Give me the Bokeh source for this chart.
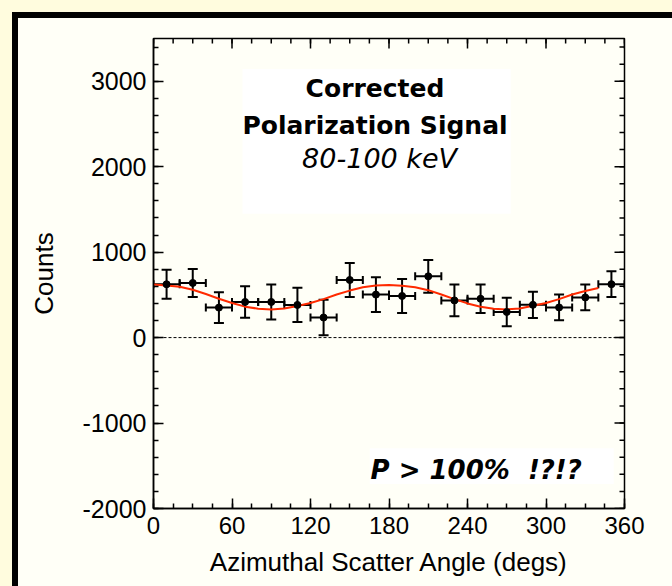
from bokeh.plotting import figure
from bokeh.models import (ColumnDataSource, Whisker, TeeHead, FixedTicker,
                          Range1d, BoxAnnotation, Label, Span)
from bokeh.embed import file_html
from bokeh.resources import INLINE

# ---- data ----
angles = [10, 30, 50, 70, 90, 110, 130, 150, 170, 190, 210, 230, 250, 270, 290, 310, 330, 350]
counts = [624, 639, 351, 417, 417, 382, 235, 674, 503, 487, 717, 435, 454, 300, 383, 353, 470, 625]
errors = [169, 165, 181, 185, 205, 200, 208, 200, 204, 200, 192, 186, 167, 167, 154, 151, 151, 151]
bin_half_width = 10

fit_angles = [0, 10, 20, 30, 40, 50, 60, 70, 80, 90, 100, 110, 120, 130, 140, 150, 160, 170,
              180, 190, 200, 210, 220, 230, 240, 250, 260, 270, 280, 290, 300, 310, 320, 330, 340]
fit_counts = [620, 610, 595, 560, 510, 455, 405, 362, 338, 330, 340, 370, 405, 450, 505, 550, 590, 610,
              615, 608, 590, 555, 505, 450, 400, 362, 338, 330, 340, 372, 405, 450, 505, 545, 580]

x_ticks = [0, 60, 120, 180, 240, 300, 360]
x_minor = [0, 15, 30, 45, 60, 75, 90, 105, 120, 135, 150, 165, 180, 195, 210, 225, 240,
           255, 270, 285, 300, 315, 330, 345, 360]
y_ticks = [-2000, -1000, 0, 1000, 2000, 3000]
y_minor = [-2000, -1800, -1600, -1400, -1200, -1000, -800, -600, -400, -200, 0, 200, 400, 600,
           800, 1000, 1200, 1400, 1600, 1800, 2000, 2200, 2400, 2600, 2800, 3000, 3200, 3400]

x_label = "Azimuthal Scatter Angle (degs)"
y_label = "Counts"
title_lines = ["Corrected", "Polarization Signal"]
energy_text = "80-100 keV"
note_text = "P > 100%\u00a0 !?!?"

# ---- colours ----
OUTER = "#fffcde"
INNER = "#fffff7"
RED = "#ff2a00"

X0, X1 = 0, 360
Y0, Y1 = -2000, 3500

src = ColumnDataSource(data=dict(
    x=angles, y=counts,
    lower=[c - e for c, e in zip(counts, errors)],
    upper=[c + e for c, e in zip(counts, errors)],
    left=[a - bin_half_width for a in angles],
    right=[a + bin_half_width for a in angles],
))

W, H = 672, 586
p = figure(width=W, height=H, output_backend="svg", toolbar_location=None,
           x_range=Range1d(X0, X1), y_range=Range1d(Y0, Y1),
           min_border_left=153, min_border_right=48, min_border_top=38, min_border_bottom=78,
           background_fill_color=INNER, border_fill_color=INNER, border_fill_alpha=0)
p.styles = {"background-color": INNER,
            "box-shadow": f"inset 12px 12px 0 0 {OUTER}, inset 18px 18px 0 0 black"}
p.grid.visible = False
p.outline_line_color = "black"
p.outline_line_width = 1.5

FONT = "Liberation Sans"

def style_axis(ax, tick_size):
    ax.axis_line_color = "black"
    ax.axis_line_width = 1.5
    ax.major_tick_line_color = "black"
    ax.major_tick_line_width = 1.5
    ax.minor_tick_line_color = "black"
    ax.minor_tick_line_width = 1.5
    ax.major_tick_in = 10
    ax.major_tick_out = 0
    ax.minor_tick_in = 5
    ax.minor_tick_out = 0
    ax.major_label_text_font = FONT
    ax.major_label_text_color = "black"
    ax.major_label_text_font_size = tick_size
    ax.axis_label_text_font = FONT
    ax.axis_label_text_font_size = "26px"
    ax.axis_label_text_font_style = "normal"
    ax.axis_label_text_color = "black"

xa = p.xaxis[0]
xa.ticker = FixedTicker(ticks=x_ticks, minor_ticks=x_minor)
xa.axis_label = x_label
style_axis(xa, "24px")
xa.major_label_standoff = 8
xa.axis_label_standoff = 10
xa.major_label_overrides = {t: str(t) for t in x_ticks}

ya = p.yaxis[0]
ya.ticker = FixedTicker(ticks=y_ticks, minor_ticks=y_minor)
ya.axis_label = y_label
style_axis(ya, "25px")
ya.major_label_standoff = 7
ya.axis_label_standoff = 21
ya.major_label_overrides = {t: str(t) for t in y_ticks}

# inward ticks on the top and right edges of the frame (same tick positions)
MAJ_PX, MIN_PX = 10, 5
FRAME_W, FRAME_H = 471, 470
dy_per_px = (Y1 - Y0) / FRAME_H
dx_per_px = (X1 - X0) / FRAME_W
p.segment(x0=x_ticks, y0=[Y1] * len(x_ticks), x1=x_ticks,
          y1=[Y1 - MAJ_PX * dy_per_px] * len(x_ticks), line_color="black", line_width=1.5)
p.segment(x0=x_minor, y0=[Y1] * len(x_minor), x1=x_minor,
          y1=[Y1 - MIN_PX * dy_per_px] * len(x_minor), line_color="black", line_width=1.5)
p.segment(x0=[X1] * len(y_ticks), y0=y_ticks, x1=[X1 - MAJ_PX * dx_per_px] * len(y_ticks),
          y1=y_ticks, line_color="black", line_width=1.5)
p.segment(x0=[X1] * len(y_minor), y0=y_minor, x1=[X1 - MIN_PX * dx_per_px] * len(y_minor),
          y1=y_minor, line_color="black", line_width=1.5)

# white text boxes
p.add_layout(BoxAnnotation(left=68, right=273, top=3142, bottom=1450, fill_color="white",
                           fill_alpha=1, line_color=None, level="underlay"))
p.add_layout(BoxAnnotation(left=165.3, right=351.8, top=-1295, bottom=-1712, fill_color="white",
                           fill_alpha=1, line_color=None, level="underlay"))

p.add_layout(Span(location=0, dimension="width", line_color="black", line_width=1,
                  line_dash="3 2"))

p.line(fit_angles, fit_counts, line_color=RED, line_width=2)

p.add_layout(Whisker(source=src, base="x", lower="lower", upper="upper", dimension="height",
                     line_color="black", line_width=2,
                     upper_head=TeeHead(size=10, line_color="black", line_width=2),
                     lower_head=TeeHead(size=10, line_color="black", line_width=2)))
p.add_layout(Whisker(source=src, base="y", lower="left", upper="right", dimension="width",
                     line_color="black", line_width=2,
                     upper_head=TeeHead(size=8, line_color="black", line_width=2),
                     lower_head=TeeHead(size=8, line_color="black", line_width=2)))
p.scatter("x", "y", source=src, size=7, color="black")

TFONT = "DejaVu Sans"
p.add_layout(Label(x=169.3, y=2915, text=title_lines[0], text_align="center",
                   text_baseline="alphabetic", text_font=TFONT, text_font_size="25px",
                   text_font_style="bold", text_color="black"))
p.add_layout(Label(x=169.3, y=2486, text=title_lines[1], text_align="center",
                   text_baseline="alphabetic", text_font=TFONT, text_font_size="25px",
                   text_font_style="bold", text_color="black"))
p.add_layout(Label(x=172.8, y=2095, text=energy_text, text_align="center",
                   text_baseline="alphabetic", text_font=TFONT, text_font_size="27px",
                   text_font_style="italic", text_color="black"))
p.add_layout(Label(x=165.9, y=-1552, text=note_text, text_align="left",
                   text_baseline="alphabetic", text_font=TFONT, text_font_size="26px",
                   text_font_style="bold italic", text_color="black"))

open("out.html", "w").write(file_html(p, INLINE))
